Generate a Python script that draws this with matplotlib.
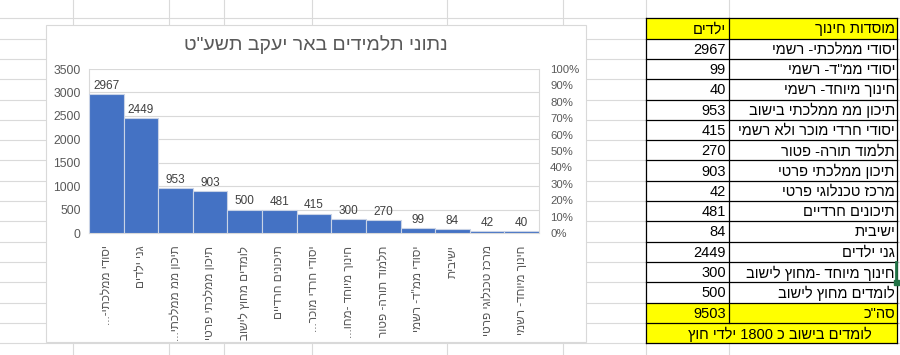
import re
import numpy as np
import matplotlib
matplotlib.use('Agg')
import matplotlib.pyplot as plt
from matplotlib.patches import Rectangle

plt.rcParams['font.family'] = ['Liberation Sans', 'DejaVu Sans']

# table data (sheet order)
institutions = ['יסודי ממלכתי- רשמי', 'יסודי ממ"ד- רשמי', 'חינוך מיוחד- רשמי',
                'תיכון ממ ממלכתי בישוב', 'יסודי חרדי מוכר ולא רשמי', 'תלמוד תורה- פטור',
                'תיכון ממלכתי פרטי', 'מרכז טכנלוגי פרטי', 'תיכונים חרדיים', 'ישיבית',
                'גני ילדים', 'חינוך מיוחד -מחוץ לישוב', 'לומדים מחוץ לישוב']
children = [2967, 99, 40, 953, 415, 270, 903, 42, 481, 84, 2449, 300, 500]
header = ['מוסדות חינוך', 'ילדים']
total_label = 'סה"כ'
note = 'לומדים בישוב כ 1800 ילדי חוץ'
title = 'נתוני תלמידים באר יעקב תשע"ט'

# how excel cut the long category names on the axis
short_names = {
    'יסודי ממלכתי- רשמי': 'יסודי ממלכתי-...',
    'תיכון ממ ממלכתי בישוב': 'תיכון ממ ממלכתי...',
    'יסודי חרדי מוכר ולא רשמי': 'יסודי חרדי מוכר...',
    'חינוך מיוחד -מחוץ לישוב': 'חינוך מיוחד -מחו...',
}

y_ticks = [0, 500, 1000, 1500, 2000, 2500, 3000, 3500]
pct_ticks = [0, 10, 20, 30, 40, 50, 60, 70, 80, 90, 100]


def vis(s):
    # matplotlib has no bidi, so flip hebrew to visual order, keep numbers as is
    parts = re.findall(r'\d+|\D+', s)
    return ''.join(p if p.isdigit() else p[::-1] for p in reversed(parts))


W, H = 900, 355
fig = plt.figure(figsize=(9, 3.55), dpi=100)
bg = fig.add_axes([0, 0, 1, 1])
bg.set_xlim(0, W)
bg.set_ylim(H, 0)
bg.axis('off')

# spreadsheet grid
grid_c = '#DADADA'
col_x = [73, 169, 224, 312, 447, 563, 646, 729]
row_y = [18.3 + 20.3 * k for k in range(17)]
for x in col_x:
    bg.plot([x, x], [0, H], color=grid_c, lw=0.8, zorder=1)
for y in row_y:
    bg.plot([0, W], [y, y], color=grid_c, lw=0.8, zorder=1)

# chart area
bg.add_patch(Rectangle((46, 25), 540, 317, fc='white', ec='#D9D9D9', lw=0.8, zorder=2))
bg.text(316, 45, vis(title), ha='center', va='center', fontsize=14, color='#595959', zorder=3)

# table
tx0, tx1, tx2 = 646, 729, 897
yellow = '#FFFF00'
n_rows = len(institutions) + 3
for r in range(n_rows):
    top, bot = row_y[r], row_y[r + 1]
    fc = yellow if r in (0, n_rows - 2, n_rows - 1) else 'white'
    bg.add_patch(Rectangle((tx0, top), tx2 - tx0, bot - top, fc=fc, ec='none', zorder=4))
    bg.plot([tx0, tx2], [top, top], color='black', lw=0.9, zorder=5)
bg.plot([tx0, tx2], [row_y[n_rows], row_y[n_rows]], color='black', lw=0.9, zorder=5)
bg.plot([tx0, tx0], [row_y[0], row_y[n_rows]], color='black', lw=0.9, zorder=5)
bg.plot([tx2, tx2], [row_y[0], row_y[n_rows]], color='black', lw=0.9, zorder=5)
bg.plot([tx1, tx1], [row_y[0], row_y[n_rows - 1]], color='black', lw=0.9, zorder=5)

left_col = [header[1]] + [str(v) for v in children] + [str(sum(children))]
right_col = [header[0]] + institutions + [total_label]
for r in range(len(left_col)):
    yc = (row_y[r] + row_y[r + 1]) / 2 + 1
    bg.text(tx1 - 3, yc, vis(left_col[r]), ha='right', va='center', fontsize=10.5, zorder=6)
    bg.text(tx2 - 2, yc, vis(right_col[r]), ha='right', va='center', fontsize=10.5, zorder=6)
yc = (row_y[n_rows - 1] + row_y[n_rows]) / 2 + 1
bg.text((tx0 + tx2) / 2 + 8, yc, vis(note), ha='center', va='center', fontsize=10.5, zorder=6)

# selected cell marker
bg.plot([896, 896], [262, 282], color='#217346', lw=2, zorder=7)
bg.add_patch(Rectangle((894, 280), 4.5, 4.5, color='#217346', zorder=7))

# pareto bars, sorted descending
order = np.argsort(children, kind='stable')[::-1]
vals = [children[i] for i in order]
labels = [short_names.get(institutions[i], institutions[i]) for i in order]
xs = np.arange(len(vals))

ax = fig.add_axes([89 / W, (H - 233) / H, 450 / W, 164 / H])
ax.set_zorder(3)
ax.patch.set_alpha(0)
bars = ax.bar(xs, vals, width=1.0, color='#4472C4', edgecolor='#C9D3E6', lw=0.8, zorder=3)
ax.bar_label(bars, padding=1.5, fontsize=8.5, color='#404040')
ax.set_xlim(-0.5, len(vals) - 0.5)
ax.set_ylim(0, 3500)
ax.set_yticks(y_ticks)
ax.set_yticklabels([str(t) for t in y_ticks])
ax.set_xticks(xs)
ax.set_xticklabels([vis(l) for l in labels], rotation=90, fontsize=8.5, color='#595959')
ax.grid(axis='y', color='#D9D9D9', lw=0.8, zorder=0)
ax.tick_params(axis='y', length=0, pad=6, labelsize=8.7, labelcolor='#595959')
ax.tick_params(axis='x', length=0, pad=9)
for s in ['left', 'right', 'bottom']:
    ax.spines[s].set_color('#D9D9D9')
    ax.spines[s].set_linewidth(0.8)
ax.spines['top'].set_visible(False)

ax2 = ax.twinx()
ax2.set_ylim(0, 100)
ax2.set_yticks(pct_ticks)
ax2.set_yticklabels([f'{t}%' for t in pct_ticks])
ax2.tick_params(axis='y', length=0, pad=8, labelsize=8.2, labelcolor='#595959')
for s in ax2.spines.values():
    s.set_visible(False)

plt.savefig('out.png', dpi=100)
